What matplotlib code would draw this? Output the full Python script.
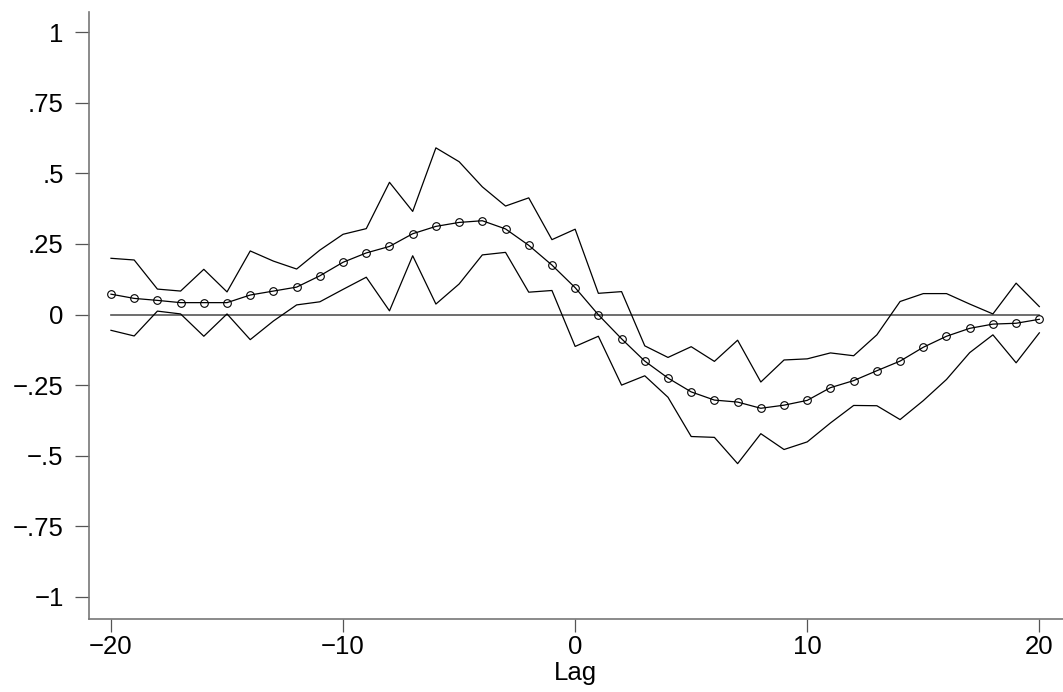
import matplotlib
matplotlib.use("Agg")
import matplotlib.pyplot as plt
from matplotlib.ticker import FixedLocator

plt.rcParams["font.family"] = ["Liberation Sans", "DejaVu Sans"]

lags = list(range(-20, 21))

# cross-correlation estimate
ccf = [0.072, 0.057, 0.050, 0.042, 0.042, 0.042, 0.069, 0.083, 0.097, 0.137,
       0.185, 0.218, 0.241, 0.286, 0.312, 0.326, 0.332, 0.303, 0.245, 0.175,
       0.095, -0.001, -0.086, -0.165, -0.225, -0.274, -0.303, -0.310, -0.332, -0.321,
       -0.304, -0.259, -0.234, -0.199, -0.165, -0.116, -0.077, -0.049, -0.034, -0.031,
       -0.017]

upper = [0.199, 0.193, 0.090, 0.083, 0.160, 0.080, 0.225, 0.189, 0.161, 0.228,
         0.284, 0.304, 0.468, 0.365, 0.590, 0.541, 0.452, 0.384, 0.413, 0.265,
         0.302, 0.075, 0.081, -0.111, -0.152, -0.114, -0.166, -0.091, -0.239, -0.161,
         -0.157, -0.136, -0.146, -0.072, 0.046, 0.074, 0.074, 0.037, 0.002, 0.111,
         0.028]

lower = [-0.056, -0.076, 0.012, 0.002, -0.077, 0.002, -0.089, -0.023, 0.034, 0.045,
         0.089, 0.132, 0.013, 0.208, 0.037, 0.108, 0.211, 0.220, 0.079, 0.085,
         -0.113, -0.077, -0.250, -0.217, -0.293, -0.432, -0.435, -0.528, -0.422, -0.478,
         -0.451, -0.384, -0.322, -0.323, -0.372, -0.305, -0.230, -0.135, -0.072, -0.171,
         -0.065]

yticks = [-1, -0.75, -0.5, -0.25, 0, 0.25, 0.5, 0.75, 1]
ylabels = ["\u22121", "\u2212.75", "\u2212.5", "\u2212.25", "0", ".25", ".5", ".75", "1"]
xticks = [-20, -10, 0, 10, 20]
xlabels = ["\u221220", "\u221210", "0", "10", "20"]

W, H = 1063, 692
fig = plt.figure(figsize=(W / 100, H / 100), dpi=100)
ax = fig.add_axes([88.7 / W, 1 - 618.7 / H, (W - 88.7) / W, (618.7 - 12) / H])

ax.plot([lags[0], lags[-1]], [0, 0], color="#555555", lw=1.2)
ax.plot(lags, upper, color="black", lw=0.9)
ax.plot(lags, lower, color="black", lw=0.9)
ax.plot(lags, ccf, color="black", lw=0.9, marker="o", ms=5.5,
        mfc="none", mec="black", mew=0.8)

ax.set_xlim(-20.96, 21.02)
ax.set_ylim(-1.077, 1.071)
ax.xaxis.set_major_locator(FixedLocator(xticks))
ax.set_xticklabels(xlabels)
ax.yaxis.set_major_locator(FixedLocator(yticks))
ax.set_yticklabels(ylabels)

for s in ("top", "right"):
    ax.spines[s].set_visible(False)
for s in ("left", "bottom"):
    ax.spines[s].set_color("#777777")
    ax.spines[s].set_linewidth(1.2)
ax.tick_params(axis="both", width=0.9, color="#555555",
               labelsize=18.5, labelcolor="black")
ax.tick_params(axis="y", length=10, pad=8)
ax.tick_params(axis="x", length=9, pad=3)
ax.set_xlabel("Lag", fontsize=18.5, labelpad=1)

fig.savefig("out.png", dpi=100)
